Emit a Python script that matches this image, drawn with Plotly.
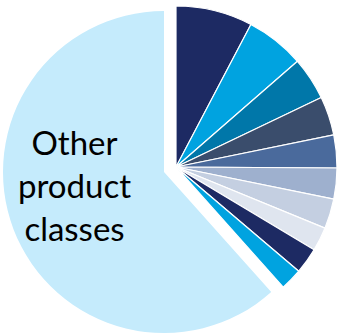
import plotly.graph_objects as go

# Share of each product class (percent), clockwise from 12 o'clock
labels = ["Class A", "Class B", "Class C", "Class D", "Class E", "Class F",
          "Class G", "Class H", "Class I", "Class J", "Other product classes"]
shares = [7.7, 5.9, 4.3, 3.9, 3.3, 3.1, 3.0, 2.4, 2.6, 2.2, 61.6]
colors = ["#1D2A63", "#00A3E0", "#0077A9", "#3A4D6C", "#4A6A9C", "#9EB0CE",
          "#C4CFE1", "#DFE5EF", "#1D2A63", "#00A3E0", "#C5EBFC"]
other_label = "Other<br>product<br>classes"

W, H = 339, 336
CLEAR = "rgba(0,0,0,0)"
n = len(shares)
other_idx = n - 1

# pie geometry in pixels: centre and radius of the main disc, offset of the pulled slice
cx, cy, r = 176, 167, 161
dx, dy = -12, 5


def domain(cx_px, cy_px):
    return dict(x=[(cx_px - r) / W, (cx_px + r) / W],
                y=[1 - (cy_px + r) / H, 1 - (cy_px - r) / H])


# main disc: all classes except the pulled "other" slice
main_colors = [c if i != other_idx else CLEAR for i, c in enumerate(colors)]
main_lw = [1.2 if i != other_idx else 0 for i in range(n)]
# pulled slice: only the "other" share is painted
pulled_colors = [colors[i] if i == other_idx else CLEAR for i in range(n)]

fig = go.Figure()
fig.add_trace(go.Pie(
    labels=labels, values=shares, sort=False, direction="clockwise", rotation=0,
    marker=dict(colors=pulled_colors, line=dict(color="white", width=0)),
    textinfo="none", hoverinfo="skip", showlegend=False,
    domain=domain(cx + dx, cy + dy),
))
fig.add_trace(go.Pie(
    labels=labels, values=shares, sort=False, direction="clockwise", rotation=0,
    marker=dict(colors=main_colors, line=dict(color="white", width=main_lw)),
    textinfo="none", showlegend=False,
    domain=domain(cx, cy),
))

fig.add_annotation(
    text=other_label, x=74.5 / W, y=1 - 185 / H, xref="paper", yref="paper",
    xanchor="center", yanchor="middle", showarrow=False, align="center",
    font=dict(family="Lato", size=33, color="#000000"),
)

fig.update_layout(
    width=W, height=H, margin=dict(l=0, r=0, t=0, b=0),
    paper_bgcolor="white", plot_bgcolor="white", showlegend=False,
)
fig.write_html("out.html")
